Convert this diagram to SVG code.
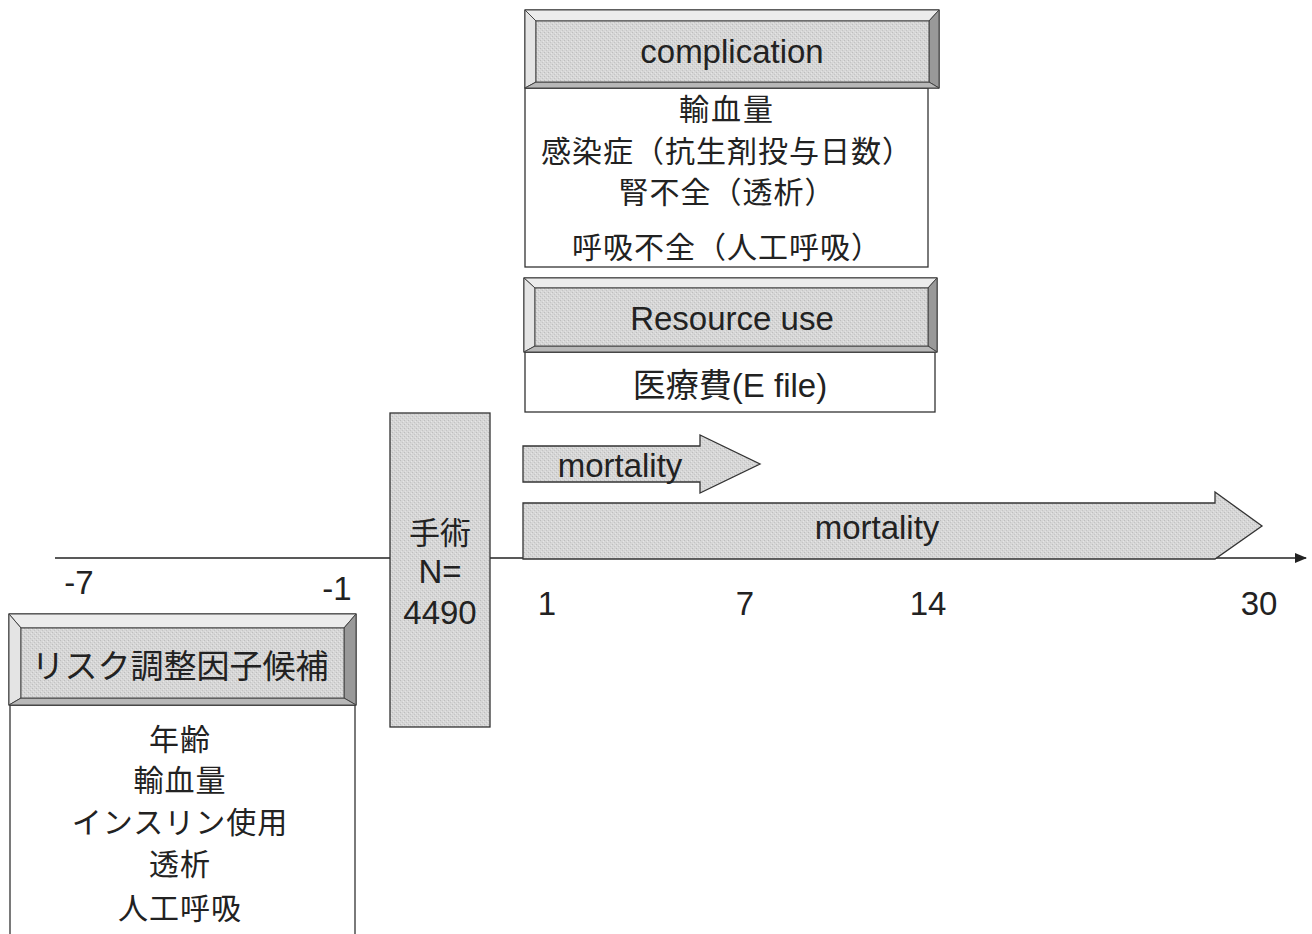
<svg xmlns="http://www.w3.org/2000/svg" width="1312" height="934" viewBox="0 0 1312 934">
<defs>
<marker id="ah" viewBox="0 0 12 10" refX="11" refY="5" markerWidth="12" markerHeight="10" markerUnits="userSpaceOnUse" orient="auto">
<path d="M0,0 L12,5 L0,10 Z" fill="#222"/>
</marker>
<pattern id="tex" width="4" height="4" patternUnits="userSpaceOnUse">
<rect width="4" height="4" fill="#d6d6d6"/>
<rect x="0" y="0" width="1" height="1" fill="#bdbdbd"/>
<rect x="2" y="2" width="1" height="1" fill="#c4c4c4"/>
<rect x="3" y="1" width="1" height="1" fill="#e6e6e6"/>
<rect x="1" y="3" width="1" height="1" fill="#e2e2e2"/>
</pattern>
</defs>
<style>
.t{font-family:"Liberation Sans","Noto Sans CJK JP",Arial,sans-serif;font-size:33px;fill:#222;text-anchor:middle;dominant-baseline:central}
.j{font-family:"Noto Sans CJK JP","Liberation Sans",sans-serif;font-size:30px;fill:#222;text-anchor:middle;dominant-baseline:central}
.box{fill:#fff;stroke:#333;stroke-width:1.3}
.face{fill:url(#tex);stroke:#333;stroke-width:1.3}
.bt{fill:#ececec;stroke:#444;stroke-width:1}
.bl{fill:#e4e4e4;stroke:#444;stroke-width:1}
.br{fill:#999;stroke:#444;stroke-width:1}
.bb{fill:#b8b8b8;stroke:#444;stroke-width:1}
.arr{fill:url(#tex);stroke:#333;stroke-width:1.3}
.axis{stroke:#222;stroke-width:1.5;fill:none}
</style>
<rect width="1312" height="934" fill="#fff"/>

<g id="axis">
<line class="axis" x1="55" y1="558" x2="1306" y2="558" marker-end="url(#ah)"/>
</g>

<g id="ticks">
<text class="t" x="79" y="582">-7</text>
<text class="t" x="337" y="588">-1</text>
<text class="t" x="547" y="603">1</text>
<text class="t" x="745" y="603">7</text>
<text class="t" x="928" y="603">14</text>
<text class="t" x="1259" y="603">30</text>
</g>

<g id="complication">
<rect class="box" x="525" y="88" width="403" height="179"/>
<rect class="face" x="525" y="10" width="414" height="78"/>
<polygon class="bt" points="525,10 939,10 929,21 536,21"/>
<polygon class="bl" points="525,10 536,21 536,82 525,88"/>
<polygon class="br" points="939,10 939,88 929,82 929,21"/>
<polygon class="bb" points="525,88 939,88 929,82 536,82"/>
<rect x="536" y="21" width="393" height="61" fill="url(#tex)" stroke="#444" stroke-width="1"/>
<text class="t" x="732" y="51">complication</text>
<text class="j" x="727" y="107" style="letter-spacing:2px">輸血量</text>
<text class="j" x="727" y="149" style="letter-spacing:1px">感染症（抗生剤投与日数）</text>
<text class="j" x="727" y="190" style="letter-spacing:1px">腎不全（透析）</text>
<text class="j" x="727" y="245" style="letter-spacing:1px">呼吸不全（人工呼吸）</text>
</g>

<g id="resource">
<rect class="box" x="525" y="352" width="410" height="60"/>
<rect class="face" x="524" y="278" width="413" height="74"/>
<polygon class="bt" points="524,278 937,278 928,288 535,288"/>
<polygon class="bl" points="524,278 535,288 535,346 524,352"/>
<polygon class="br" points="937,278 937,352 928,346 928,288"/>
<polygon class="bb" points="524,352 937,352 928,346 535,346"/>
<rect x="535" y="288" width="393" height="58" fill="url(#tex)" stroke="#444" stroke-width="1"/>
<text class="t" x="732" y="318">Resource use</text>
<text class="t" x="730" y="385">医療費(E file)</text>
</g>

<g id="surgery">
<rect class="face" x="390" y="413" width="100" height="314"/>
<text class="j" x="440" y="530" style="font-size:31px">手術</text>
<text class="t" x="440" y="571">N=</text>
<text class="t" x="440" y="612">4490</text>
</g>

<g id="mortality7">
<polygon class="arr" points="523,446 700,446 700,435 760,464 700,493 700,482 523,482"/>
<text class="t" x="620" y="465">mortality</text>
</g>

<g id="mortality30">
<polygon class="arr" points="523,503 1215,503 1215,492 1262,526 1215,559 523,559"/>
<text class="t" x="877" y="527">mortality</text>
</g>

<g id="risk">
<rect class="box" x="10" y="705" width="345" height="240"/>
<rect class="face" x="9" y="614" width="347" height="91"/>
<polygon class="bt" points="9,614 356,614 344,628 21,628"/>
<polygon class="bl" points="9,614 21,628 21,698 9,705"/>
<polygon class="br" points="356,614 356,705 344,698 344,628"/>
<polygon class="bb" points="9,705 356,705 344,698 21,698"/>
<rect x="21" y="628" width="323" height="70" fill="url(#tex)" stroke="#444" stroke-width="1"/>
<text class="j" x="180" y="664" style="font-size:33px">リスク調整因子候補</text>
<text class="j" x="180" y="737" style="letter-spacing:1px">年齢</text>
<text class="j" x="180" y="778" style="letter-spacing:1px">輸血量</text>
<text class="j" x="180" y="820" style="letter-spacing:1px">インスリン使用</text>
<text class="j" x="180" y="862" style="letter-spacing:1px">透析</text>
<text class="j" x="180" y="906" style="letter-spacing:1px">人工呼吸</text>
</g>
</svg>
